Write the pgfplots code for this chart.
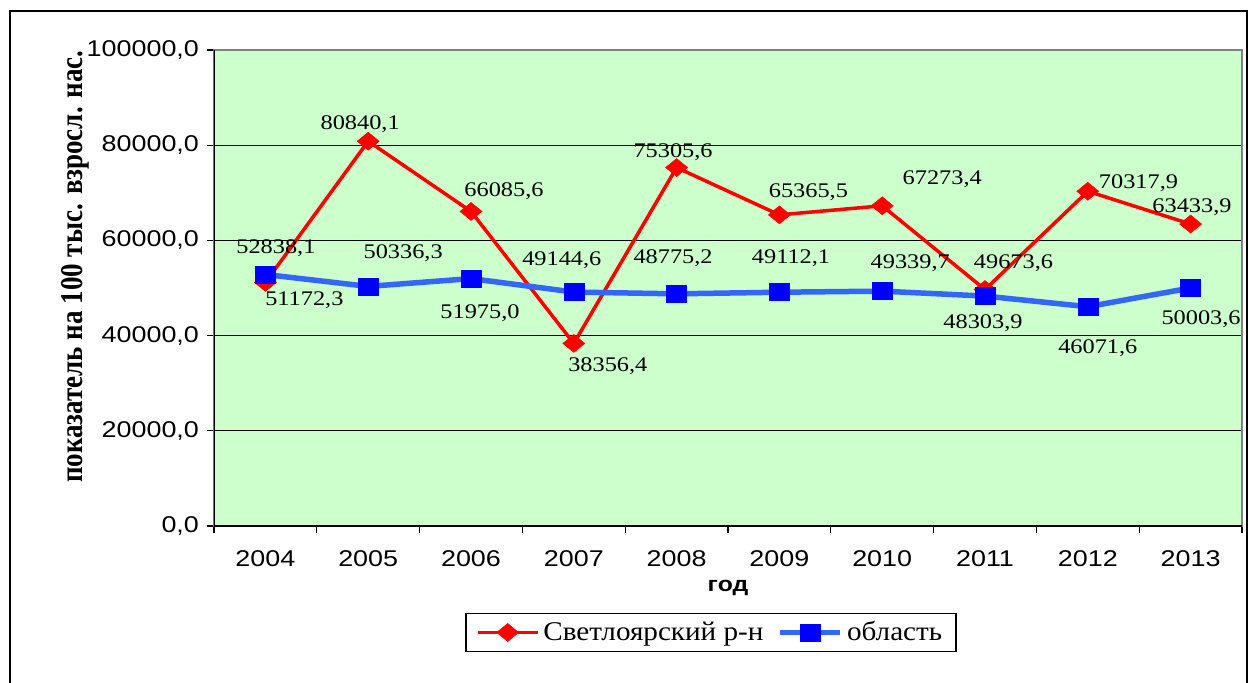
\documentclass[border=0pt]{standalone}
\usepackage{fontspec}
\usepackage{graphicx}
\usepackage{pgfplots}
\usepackage{pgfplotstable}
\pgfplotsset{compat=1.18}
\setmainfont{Liberation Serif}[FakeStretch=1.17]
\newfontfamily\arialS{Liberation Sans}[FakeStretch=1.18]
\newfontfamily\legfont{Liberation Serif}[FakeStretch=1.08]
\newfontfamily\timesplain{Liberation Serif}
\definecolor{bgGreen}{HTML}{CCFFCC}
\definecolor{redS}{HTML}{FF0000}
\definecolor{blueL}{HTML}{3366FF}
\definecolor{blueM}{HTML}{0000FF}
\definecolor{grayB}{HTML}{808080}

\pgfplotstableread{
x y
0 51172.3
1 80840.1
2 66085.6
3 38356.4
4 75305.6
5 65365.5
6 67273.4
7 49673.6
8 70317.9
9 63433.9
}\redtab

\pgfplotstableread{
x y
0 52838.1
1 50336.3
2 51975.0
3 49144.6
4 48775.2
5 49112.1
6 49339.7
7 48303.9
8 46071.6
9 50003.6
}\bluetab

% 1 reference pixel = 0.5pt
\newcommand{\lab}[5]{\node[anchor=center, inner sep=0pt, font=\fontsize{10.4}{12}\selectfont, xshift={0.5*(#3)*1pt}, yshift={0.5*(#4)*1pt}] at (axis cs:#1,#2) {#5};}

\begin{document}
\begin{tikzpicture}
\useasboundingbox (0,0) rectangle (625pt,341pt);
\draw[black, line width=0.8pt] (5pt,-3pt) -- (5pt,335.5pt) -- (623.5pt,335.5pt) -- (623.5pt,-3pt);
\begin{axis}[
  at={(107pt,78pt)}, anchor=south west,
  scale only axis, width=514pt, height=238pt,
  xmin=-0.5, xmax=9.5, ymin=0, ymax=100000,
  axis background/.style={fill=bgGreen},
  axis line style={draw=grayB, line width=0.8pt},
  xtick={-0.5,0.5,1.5,2.5,3.5,4.5,5.5,6.5,7.5,8.5,9.5},
  x tick label as interval,
  xticklabels={2004,2005,2006,2007,2008,2009,2010,2011,2012,2013},
  ytick={0,20000,40000,60000,80000,100000},
  yticklabels={{0,0},{20000,0},{40000,0},{60000,0},{80000,0},{100000,0}},
  scaled y ticks=false,
  tick pos=left, tick align=outside,
  major tick length=3.5pt,
  tick style={black, line width=0.65pt},
  ymajorgrids, major grid style={black, line width=0.65pt},
  tick label style={font=\arialS\fontsize{11.4}{13}\selectfont},
  xticklabel style={yshift=-5.5pt},
  yticklabel style={xshift=-0.5pt},
  /pgf/number format/assume math mode=true,
  xlabel={\arialS\bfseries\fontsize{10.5}{12}\selectfont год},
  xlabel style={at={(axis description cs:0.5,-0.131)}, anchor=center},
  ylabel={\scalebox{1}[1.17]{\timesplain\bfseries\fontsize{13.5}{15}\selectfont показатель на 100 тыс. взросл. нас.}},
  ylabel style={at={(axis description cs:-0.1352,0.545)}, anchor=center},
  legend columns=2,
  legend style={at={(0.4835,-0.2237)}, anchor=center, draw=black, line width=0.75pt, fill=white,
    font=\legfont\fontsize{13.5}{15}\selectfont, inner xsep=5pt, inner ysep=2pt,
    /tikz/every even column/.append style={column sep=5pt}},
  legend image code/.code={\draw[mark repeat=2, mark phase=2, #1] plot coordinates {(0pt,0pt) (15pt,0pt) (30pt,0pt)};},
]
\addplot[redS, line width=1.75pt, mark=diamond*, mark size=4.5pt,
  mark options={xscale=1.63, fill=redS, draw=redS, line width=0.25pt}]
  table[x=x, y=y] {\redtab};
\addlegendentry{Светлоярский р-н}
\addplot[blueL, line width=2.75pt, mark=square*, mark size=4.25pt,
  mark options={xscale=1.18, fill=blueM, draw=blueM, line width=0.25pt}]
  table[x=x, y=y] {\bluetab};
\addlegendentry{область}
\draw[black, line width=0.9pt] (rel axis cs:0,1) -- (rel axis cs:0,0) -- (rel axis cs:1,0);
\lab{0}{51172.3}{39}{-18}{51172,3}
\lab{1}{80840.1}{-8}{17}{80840,1}
\lab{2}{66085.6}{33}{20.6}{66085,6}
\lab{3}{38356.4}{34}{-23}{38356,4}
\lab{4}{75305.6}{-3.5}{15}{75305,6}
\lab{5}{65365.5}{29}{22.5}{65365,5}
\lab{6}{67273.4}{60}{27}{67273,4}
\lab{7}{49673.6}{28.5}{26.6}{49673,6}
\lab{8}{70317.9}{50.7}{8.3}{70317,9}
\lab{9}{63433.9}{1.4}{17}{63433,9}
\lab{0}{52838.1}{10.5}{26.5}{52838,1}
\lab{1}{50336.3}{35}{33}{50336,3}
\lab{2}{51975.0}{9}{-34.7}{51975,0}
\lab{3}{49144.6}{-12}{32}{49144,6}
\lab{4}{48775.2}{-3.5}{36}{48775,2}
\lab{5}{49112.1}{11.6}{34}{49112,1}
\lab{6}{49339.7}{28}{28}{49339,7}
\lab{7}{48303.9}{-2}{-27}{48303,9}
\lab{8}{46071.6}{10}{-41}{46071,6}
\lab{9}{50003.6}{10.5}{-30.7}{50003,6}
\end{axis}
\end{tikzpicture}
\end{document}
